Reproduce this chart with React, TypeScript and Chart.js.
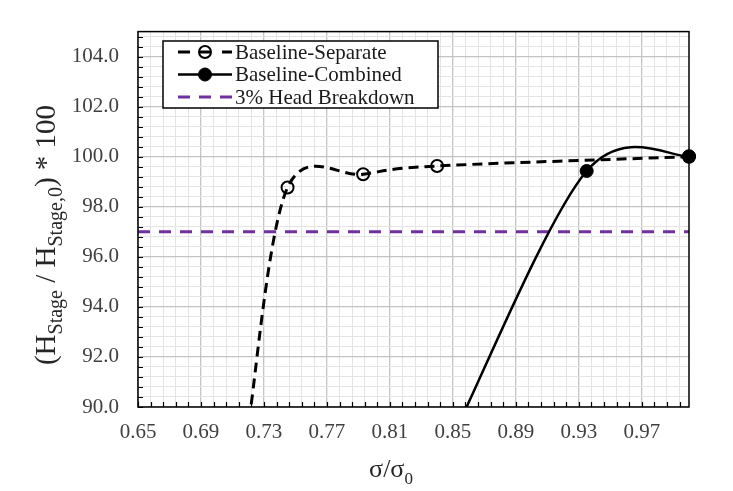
import { useEffect, useRef } from "react"
import { Chart, registerables } from "chart.js"

Chart.register(...registerables)

// values (the first point of each curve sits just below the axis)
const separateX = [0.7205, 0.745, 0.793, 0.84, 1.0]
const separateY = [89.48, 98.77, 99.3, 99.63, 100.0]
const combinedX = [0.853, 0.935, 1.0]
const combinedY = [89.24, 99.43, 100.02]
const breakdownX = [0.65, 1.0]
const breakdownY = [97, 97]

const seriesLabels = ["Baseline-Separate", "Baseline-Combined", "3% Head Breakdown"]

const xMajorTicks = [0.65, 0.69, 0.73, 0.77, 0.81, 0.85, 0.89, 0.93, 0.97]
const yMajorTicks = [90, 92, 94, 96, 98, 100, 102, 104]
const xRange = [0.65, 1.0]
const yRange = [90, 105]
const minorPerMajor = 5

const FONT = "'Liberation Serif', 'Times New Roman', serif"
const PURPLE = "#7030a0"
const GRID_MAJOR = "#c4c4c4"
const GRID_MINOR = "#e4e4e4"

function buildTicks(majors: number[], max: number) {
  const step = (majors[1] - majors[0]) / minorPerMajor
  const ticks: { value: number }[] = []
  for (let i = 0; ; i++) {
    const v = Math.round((majors[0] + i * step) * 10000) / 10000
    if (v > max + 1e-9) break
    ticks.push({ value: v })
  }
  return ticks
}

function toPoints(xs: number[], ys: number[]) {
  return xs.map((x, i) => ({ x, y: ys[i] }))
}

// Excel-style smoothed line: Catmull-Rom control points (neighbour difference / 6)
const excelSmooth = {
  id: "excelSmooth",
  beforeDatasetDraw(chart: any, args: any) {
    const meta = args.meta
    const line = meta.dataset
    if (!line || !line.options || !line.options.tension) return
    line.updateControlPoints(chart.chartArea, meta.iScale.axis)
    const pts = meta.data
    const n = pts.length
    for (let i = 0; i < n; i++) {
      const prev = pts[Math.max(0, i - 1)]
      const next = pts[Math.min(n - 1, i + 1)]
      const dx = (next.x - prev.x) / 6
      const dy = (next.y - prev.y) / 6
      pts[i].cp1x = pts[i].x - dx
      pts[i].cp1y = pts[i].y - dy
      pts[i].cp2x = pts[i].x + dx
      pts[i].cp2y = pts[i].y + dy
    }
  },
}

type Seg = { text: string; sub?: boolean }

function drawRich(ctx: CanvasRenderingContext2D, segs: Seg[], cx: number, baseline: number, size: number, subSize: number) {
  const widths = segs.map((s) => {
    ctx.font = `${s.sub ? subSize : size}px ${FONT}`
    return ctx.measureText(s.text).width
  })
  const total = widths.reduce((a, b) => a + b, 0)
  let x = cx - total / 2
  ctx.textAlign = "left"
  ctx.textBaseline = "alphabetic"
  segs.forEach((s, i) => {
    ctx.font = `${s.sub ? subSize : size}px ${FONT}`
    ctx.fillText(s.text, x, s.sub ? baseline + size * 0.25 : baseline)
    x += widths[i]
  })
}

const decorPlugin = {
  id: "decor",
  afterDraw(chart: any) {
    const ctx: CanvasRenderingContext2D = chart.ctx
    const { left, right, top, bottom } = chart.chartArea
    const xs = chart.scales.x
    const ys = chart.scales.y
    ctx.save()

    // plot frame
    ctx.strokeStyle = "#000"
    ctx.lineWidth = 1.5
    ctx.setLineDash([])
    ctx.strokeRect(left, top, right - left, bottom - top)

    // inward tick marks
    ctx.lineWidth = 1.2
    ctx.beginPath()
    xs.ticks.forEach((t: any) => {
      const px = Math.round(xs.getPixelForValue(t.value)) + 0.5
      ctx.moveTo(px, bottom)
      ctx.lineTo(px, bottom - 5)
    })
    ys.ticks.forEach((t: any) => {
      const py = Math.round(ys.getPixelForValue(t.value)) + 0.5
      ctx.moveTo(left, py)
      ctx.lineTo(left + 5, py)
    })
    ctx.stroke()

    // legend
    const box = { x: 163, y: 41, w: 275, h: 67 }
    ctx.fillStyle = "#fff"
    ctx.fillRect(box.x, box.y, box.w, box.h)
    ctx.lineWidth = 1.5
    ctx.strokeStyle = "#000"
    ctx.strokeRect(box.x, box.y, box.w, box.h)
    const rows = [52, 74.5, 97]
    const x0 = 178
    const x1 = 232
    const mid = (x0 + x1) / 2
    chart.data.datasets.forEach((ds: any, i: number) => {
      const y = rows[i]
      ctx.strokeStyle = ds.borderColor
      ctx.lineWidth = ds.borderWidth
      if (i === 0) {
        ctx.setLineDash([])
        ctx.beginPath()
        ctx.moveTo(x0, y)
        ctx.lineTo(x0 + 12, y)
        ctx.moveTo(mid - 6, y)
        ctx.lineTo(mid + 6, y)
        ctx.moveTo(x1 - 10, y)
        ctx.lineTo(x1, y)
        ctx.stroke()
      } else {
        ctx.setLineDash(ds.borderDash || [])
        ctx.beginPath()
        ctx.moveTo(x0, y)
        ctx.lineTo(x1, y)
        ctx.stroke()
      }
      ctx.setLineDash([])
      if (ds.pointRadius > 0) {
        ctx.beginPath()
        ctx.arc(mid, y, ds.pointRadius, 0, Math.PI * 2)
        ctx.fillStyle = ds.pointBackgroundColor
        ctx.fill()
        ctx.lineWidth = ds.pointBorderWidth
        ctx.strokeStyle = ds.pointBorderColor
        ctx.stroke()
      }
      ctx.fillStyle = "#1a1a1a"
      ctx.font = `21px ${FONT}`
      ctx.textAlign = "left"
      ctx.textBaseline = "middle"
      ctx.fillText(ds.label, x1 + 3, y + 1)
    })

    // axis titles
    ctx.fillStyle = "#262626"
    drawRich(ctx, [{ text: "\u03c3/\u03c3" }, { text: "0", sub: true }], 391, 477, 26, 17)
    ctx.translate(55, 235)
    ctx.rotate(-Math.PI / 2)
    drawRich(
      ctx,
      [
        { text: "(H" },
        { text: "Stage", sub: true },
        { text: " / H" },
        { text: "Stage,0", sub: true },
        { text: ") * 100" },
      ],
      0,
      0,
      29,
      20
    )
    ctx.restore()
  },
}

export default function App() {
  const chartRef = useRef<HTMLCanvasElement>(null)
  const chartInstance = useRef<Chart | null>(null)

  useEffect(() => {
    if (!chartRef.current) return
    if (chartInstance.current) chartInstance.current.destroy()

    const isMajor = (ctx: any) => ctx.index % minorPerMajor === 0
    const clip = { left: 0, top: 0, right: 10, bottom: 0 }

    chartInstance.current = new Chart(chartRef.current, {
      type: "line",
      data: {
        datasets: [
          {
            label: seriesLabels[0],
            data: toPoints(separateX, separateY),
            borderColor: "#000",
            borderWidth: 3,
            borderDash: [10, 6],
            tension: 0.5,
            clip,
            pointRadius: 6,
            pointBorderWidth: 2,
            pointBorderColor: "#000",
            pointBackgroundColor: "rgba(255,255,255,0)",
          },
          {
            label: seriesLabels[1],
            data: toPoints(combinedX, combinedY),
            borderColor: "#000",
            borderWidth: 2.5,
            tension: 0.5,
            clip,
            pointRadius: 6.5,
            pointBorderWidth: 1,
            pointBorderColor: "#000",
            pointBackgroundColor: "#000",
          },
          {
            label: seriesLabels[2],
            data: toPoints(breakdownX, breakdownY),
            borderColor: PURPLE,
            borderWidth: 3,
            borderDash: [12, 9],
            tension: 0,
            clip,
            pointRadius: 0,
            pointBorderWidth: 0,
            pointBorderColor: PURPLE,
            pointBackgroundColor: PURPLE,
          },
        ],
      },
      options: {
        responsive: true,
        maintainAspectRatio: false,
        animation: false,
        layout: { padding: { top: 29, right: 44, left: 0, bottom: 0 } },
        plugins: {
          legend: { display: false },
          tooltip: { enabled: false },
        },
        scales: {
          x: {
            type: "linear",
            min: xRange[0],
            max: xRange[1],
            afterBuildTicks: (scale: any) => {
              scale.ticks = buildTicks(xMajorTicks, xRange[1])
            },
            afterFit: (scale: any) => {
              scale.height = 84
            },
            border: { display: false },
            grid: {
              drawTicks: false,
              color: (ctx: any) => (isMajor(ctx) ? GRID_MAJOR : GRID_MINOR),
              lineWidth: (ctx: any) => (isMajor(ctx) ? 1.3 : 1),
            },
            ticks: {
              autoSkip: false,
              maxRotation: 0,
              padding: 13,
              color: "#404040",
              font: { family: FONT, size: 21 },
              callback: (value: any, index: number) => (index % minorPerMajor === 0 ? Number(value).toFixed(2) : ""),
            },
          },
          y: {
            type: "linear",
            min: yRange[0],
            max: yRange[1],
            afterBuildTicks: (scale: any) => {
              scale.ticks = buildTicks(yMajorTicks, yRange[1])
            },
            afterFit: (scale: any) => {
              scale.width = 138
            },
            border: { display: false },
            grid: {
              drawTicks: false,
              color: (ctx: any) => (isMajor(ctx) ? GRID_MAJOR : GRID_MINOR),
              lineWidth: (ctx: any) => (isMajor(ctx) ? 1.3 : 1),
            },
            ticks: {
              autoSkip: false,
              padding: 19,
              color: "#404040",
              font: { family: FONT, size: 21 },
              callback: (value: any, index: number) => (index % minorPerMajor === 0 ? Number(value).toFixed(1) : ""),
            },
          },
        },
      },
      plugins: [excelSmooth, decorPlugin],
    })

    return () => {
      if (chartInstance.current) {
        chartInstance.current.destroy()
        chartInstance.current = null
      }
    }
  }, [])

  return (
    <div style={{ position: "fixed", left: 0, top: 0, width: 733, height: 491, background: "#fff" }}>
      <canvas ref={chartRef} />
    </div>
  )
}
